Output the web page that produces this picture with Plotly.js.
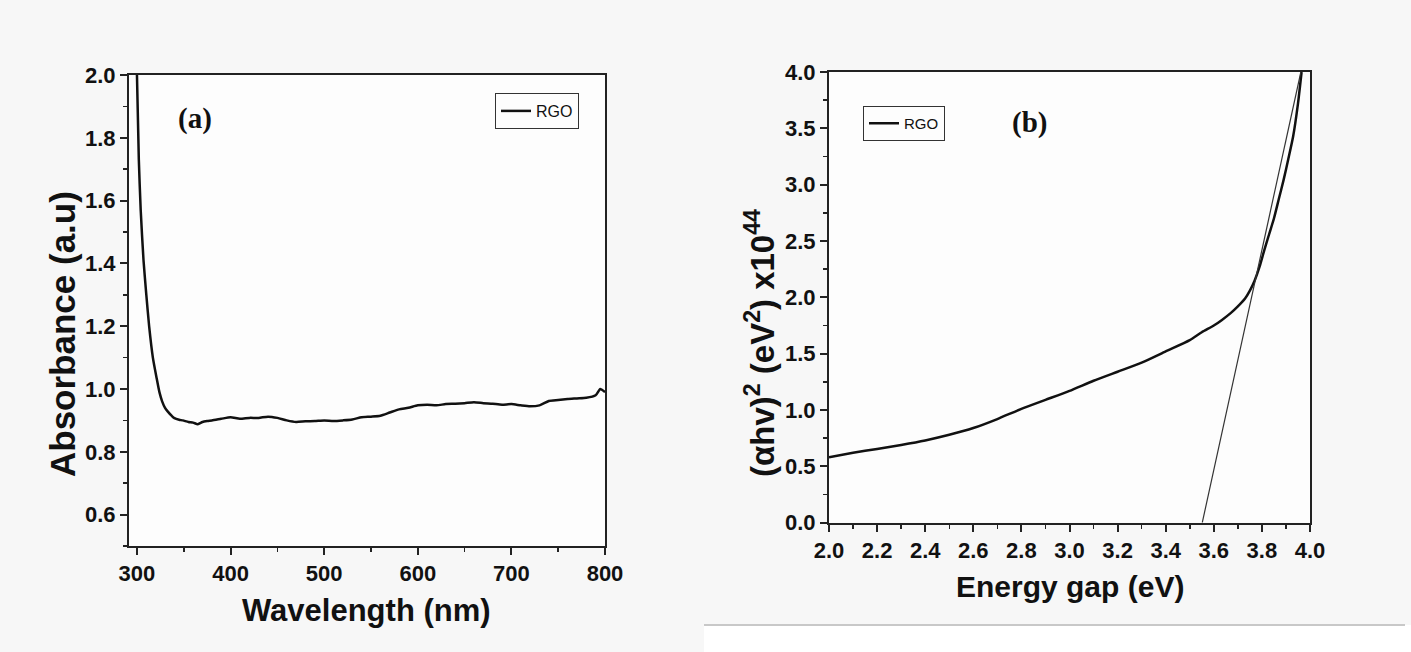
<!DOCTYPE html>
<html>
<head>
<meta charset="utf-8">
<script src="https://cdn.plot.ly/plotly-3.0.1.min.js"></script>
<style>
html,body{margin:0;padding:0;background:#f8f8f8;}
#chart{width:1411px;height:652px;}
</style>
</head>
<body>
<div id="chart"></div>
<script>
// Panel (a): UV-Vis absorbance of RGO
const wavelength = [300, 302, 304, 307, 310, 313, 317, 321, 324, 327, 330, 333, 337, 340, 345, 349, 355, 360, 365, 370, 375, 380, 390, 400, 410, 420, 430, 440, 450, 460, 470, 480, 490, 500, 510, 520, 530, 540, 550, 560, 570, 580, 590, 600, 610, 620, 630, 640, 650, 660, 670, 680, 690, 700, 710, 720, 730, 740, 750, 760, 770, 780, 790, 795, 800];
const absorbance = [2.0, 1.73, 1.57, 1.41, 1.30, 1.20, 1.10, 1.035, 0.99, 0.96, 0.94, 0.928, 0.915, 0.907, 0.902, 0.90, 0.895, 0.893, 0.888, 0.895, 0.898, 0.90, 0.905, 0.91, 0.905, 0.908, 0.908, 0.912, 0.908, 0.90, 0.895, 0.897, 0.898, 0.90, 0.898, 0.90, 0.903, 0.91, 0.912, 0.915, 0.925, 0.935, 0.94, 0.948, 0.95, 0.948, 0.952, 0.953, 0.955, 0.958, 0.955, 0.953, 0.95, 0.952, 0.948, 0.945, 0.948, 0.962, 0.965, 0.968, 0.97, 0.972, 0.98, 1.0, 0.99];

// Panel (b): Tauc plot
const energy = [2.0, 2.1, 2.2, 2.3, 2.4, 2.5, 2.6, 2.7, 2.8, 2.9, 3.0, 3.1, 3.2, 3.3, 3.4, 3.5, 3.55, 3.6, 3.634, 3.67, 3.7, 3.73, 3.75, 3.77, 3.79, 3.81, 3.83, 3.85, 3.87, 3.89, 3.91, 3.93, 3.95, 3.965];
const ahv2 = [0.58, 0.62, 0.655, 0.69, 0.73, 0.78, 0.84, 0.92, 1.01, 1.09, 1.17, 1.26, 1.34, 1.42, 1.52, 1.62, 1.69, 1.75, 1.80, 1.86, 1.92, 1.99, 2.06, 2.15, 2.27, 2.42, 2.56, 2.70, 2.87, 3.04, 3.23, 3.43, 3.72, 4.0];
const fitEnergy = [3.552, 3.962];
const fitAhv2 = [0.0, 4.0];

const xTicksA = [300, 400, 500, 600, 700, 800];
const yTicksA = [0.6, 0.8, 1.0, 1.2, 1.4, 1.6, 1.8, 2.0];
const xTicksB = [2.0, 2.2, 2.4, 2.6, 2.8, 3.0, 3.2, 3.4, 3.6, 3.8, 4.0];
const yTicksB = [0.0, 0.5, 1.0, 1.5, 2.0, 2.5, 3.0, 3.5, 4.0];

const W = 1411, H = 652;
const px = v => v / W;
const py = v => 1 - v / H;

const tickFont = {family: 'Arial, Liberation Sans, sans-serif', size: 22, color: '#111', weight: 'bold'};
const axisBase = {
  showline: true, linewidth: 2, linecolor: '#222', mirror: true,
  ticks: 'outside', ticklen: 7, tickwidth: 2, tickcolor: '#222',
  showgrid: false, zeroline: false, tickfont: tickFont, fixedrange: true
};

const traces = [
  {x: wavelength, y: absorbance, type: 'scatter', mode: 'lines', name: 'RGO',
   line: {color: '#111', width: 2.5, shape: 'spline', smoothing: 0.6}, xaxis: 'x', yaxis: 'y', legend: 'legend'},
  {x: energy, y: ahv2, type: 'scatter', mode: 'lines', name: 'RGO',
   line: {color: '#111', width: 2.5, shape: 'spline', smoothing: 0.6}, xaxis: 'x2', yaxis: 'y2', legend: 'legend2'},
  {x: fitEnergy, y: fitAhv2, type: 'scatter', mode: 'lines', name: 'fit',
   line: {color: '#333', width: 1.2}, xaxis: 'x2', yaxis: 'y2', showlegend: false}
];

const titleFont = {family: 'Arial, Liberation Sans, sans-serif', color: '#111', weight: 'bold'};

const layout = {
  width: W, height: H, autosize: false,
  margin: {l: 0, r: 0, t: 0, b: 0},
  paper_bgcolor: '#f7f7f7', plot_bgcolor: '#fdfdfd',
  xaxis: Object.assign({}, axisBase, {
    domain: [px(129), px(605)], range: [291.5, 800], anchor: 'y',
    tickvals: xTicksA, ticktext: xTicksA.map(String),
    minor: {dtick: 50, tick0: 0, ticks: 'outside', ticklen: 4, tickwidth: 1.5, tickcolor: '#222'}
  }),
  yaxis: Object.assign({}, axisBase, {
    domain: [py(546), py(75)], range: [0.5, 2.0], anchor: 'x',
    tickvals: yTicksA, ticktext: yTicksA.map(v => v.toFixed(1)),
    minor: {dtick: 0.1, tick0: 0, ticks: 'outside', ticklen: 4, tickwidth: 1.5, tickcolor: '#222'}
  }),
  xaxis2: Object.assign({}, axisBase, {
    domain: [px(829), px(1310)], range: [2, 4], anchor: 'y2',
    tickvals: xTicksB, ticktext: xTicksB.map(v => v.toFixed(1)),
    minor: {dtick: 0.1, tick0: 0, ticks: 'outside', ticklen: 4, tickwidth: 1.5, tickcolor: '#222'}
  }),
  yaxis2: Object.assign({}, axisBase, {
    domain: [py(522.7), py(72)], range: [0, 4], anchor: 'x2',
    tickvals: yTicksB, ticktext: yTicksB.map(v => v.toFixed(1)),
    minor: {dtick: 0.25, tick0: 0, ticks: 'outside', ticklen: 4, tickwidth: 1.5, tickcolor: '#222'}
  }),
  legend: {
    x: px(495), y: py(93), xanchor: 'left', yanchor: 'top',
    bgcolor: 'rgba(255,255,255,0)', bordercolor: '#333', borderwidth: 1,
    font: {family: 'Arial, Liberation Sans, sans-serif', size: 16, color: '#111'},
    tracegroupgap: 0, itemwidth: 30
  },
  legend2: {
    x: px(863), y: py(106), xanchor: 'left', yanchor: 'top',
    bgcolor: 'rgba(255,255,255,0)', bordercolor: '#333', borderwidth: 1,
    font: {family: 'Arial, Liberation Sans, sans-serif', size: 15, color: '#111'},
    tracegroupgap: 0, itemwidth: 30
  },
  shapes: [
    {type: 'rect', xref: 'paper', yref: 'paper', x0: px(704), x1: 1, y0: 0, y1: py(625),
     fillcolor: '#ffffff', line: {width: 0}, layer: 'below'},
    {type: 'line', xref: 'paper', yref: 'paper', x0: px(704), x1: px(1405), y0: py(625), y1: py(625),
     line: {color: '#c8c8c8', width: 2}}
  ],
  annotations: [
    {text: '(a)', xref: 'paper', yref: 'paper', x: px(195), y: py(119), xanchor: 'center', yanchor: 'middle',
     showarrow: false, font: {family: 'Times New Roman, Liberation Serif, serif', size: 29, color: '#111', weight: 'bold'}},
    {text: '(b)', xref: 'paper', yref: 'paper', x: px(1029), y: py(122), xanchor: 'center', yanchor: 'middle',
     showarrow: false, font: {family: 'Times New Roman, Liberation Serif, serif', size: 29, color: '#111', weight: 'bold'}},
    {text: 'Absorbance (a.u)', xref: 'paper', yref: 'paper', x: px(62), y: py(334), xanchor: 'center', yanchor: 'middle',
     textangle: -90, showarrow: false, font: Object.assign({size: 35}, titleFont)},
    {text: 'Wavelength (nm)', xref: 'paper', yref: 'paper', x: px(366), y: py(610), xanchor: 'center', yanchor: 'middle',
     showarrow: false, font: Object.assign({size: 31}, titleFont)},
    {text: 'Energy gap (eV)', xref: 'paper', yref: 'paper', x: px(1070), y: py(586), xanchor: 'center', yanchor: 'middle',
     showarrow: false, font: Object.assign({size: 30}, titleFont)},
    {text: '(αhv)<sup>2</sup> (eV<sup>2</sup>) x10<sup>44</sup>', xref: 'paper', yref: 'paper', x: px(760), y: py(343),
     xanchor: 'center', yanchor: 'middle', textangle: -90, showarrow: false, font: Object.assign({size: 33}, titleFont)}
  ]
};

Plotly.newPlot('chart', traces, layout, {displayModeBar: false, staticPlot: true});
</script>
</body>
</html>
